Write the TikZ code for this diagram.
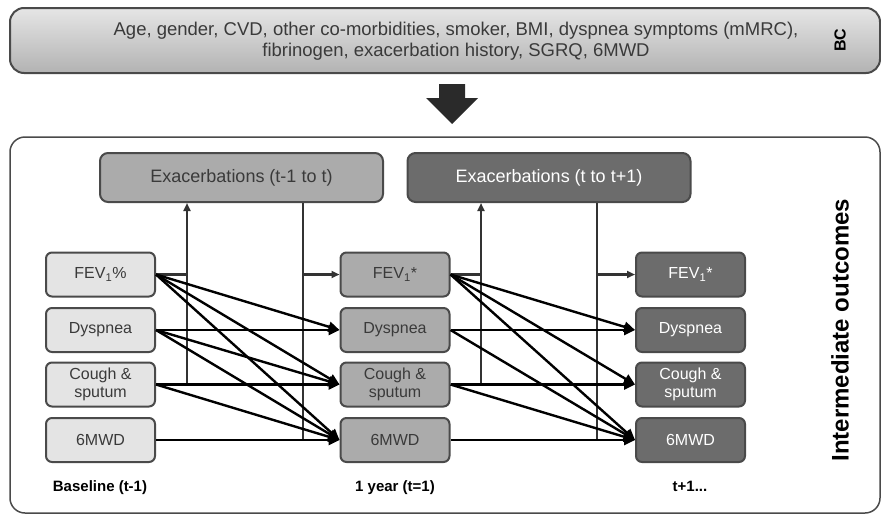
\documentclass[tikz,border=0pt]{standalone}
\usepackage{fontspec}
\setmainfont{Liberation Sans}
\usetikzlibrary{arrows.meta}
\definecolor{edge}{HTML}{4A4A4A}
\definecolor{lightbox}{HTML}{E4E4E4}
\definecolor{midbox}{HTML}{ABABAB}
\definecolor{darkbox}{HTML}{6C6C6C}
\definecolor{txt}{HTML}{3A3A3A}
\definecolor{linkcol}{HTML}{333333}
\definecolor{bigarrow}{HTML}{2A2A2A}
\begin{document}
\begin{tikzpicture}[x=1pt,y=-1pt,
 smallbox/.style={draw=edge, line width=2pt, rounded corners=6pt, minimum width=109pt, minimum height=44pt, font=\fontsize{16}{18}\selectfont, align=center, inner sep=0pt, text=txt},
 lt/.style={smallbox, fill=lightbox},
 md/.style={smallbox, fill=midbox},
 dk/.style={smallbox, fill=darkbox, text=white},
 exbox/.style={draw=edge, line width=2pt, rounded corners=8pt, minimum width=283pt, minimum height=49pt, font=\fontsize{18}{20}\selectfont, inner sep=0pt},
 flow/.style={line width=2.4pt, black, -{Triangle[length=11pt,width=10pt]}},
 link/.style={draw=linkcol, line width=2.2pt},
 linkarrow/.style={link, -{Triangle[length=8pt,width=7pt]}},
 steplabel/.style={font=\bfseries\fontsize{15}{17}\selectfont, text=black, anchor=base},
 sidelabel/.style={rotate=90, font=\bfseries, text=black}
]
\useasboundingbox (0,0) rectangle (881,517);

% top box
\node[draw=edge, line width=2pt, rounded corners=14pt, top color=white!90!black, bottom color=white!70!black,
      minimum width=870pt, minimum height=65pt, inner sep=0pt] (bcbox) at (445,40.5) {};
\node[font=\fontsize{18.5}{21}\selectfont, text=txt, align=center] (bctext) at (456,41)
  {Age, gender, CVD, other co-morbidities, smoker, BMI, dyspnea symptoms (mMRC),\\fibrinogen, exacerbation history, SGRQ, 6MWD};
\node[sidelabel, font=\bfseries\fontsize{16}{18}\selectfont] (bc) at (840,40) {BC};

% big arrow
\fill[bigarrow] (439,84) -- (465,84) -- (465,98) -- (478,98) -- (452,124) -- (426,98) -- (439,98) -- cycle;

% bottom frame
\draw[edge, line width=1.5pt, rounded corners=15pt] (10,137) rectangle (880,513);
\node[sidelabel, font=\bfseries\fontsize{24}{26}\selectfont] (io) at (840,330) {Intermediate outcomes};

% exacerbation boxes
\node[exbox, fill=midbox, text=txt] (e1) at (241.5,177.5) {Exacerbations (t-1 to t)};
\node[exbox, fill=darkbox, text=white] (e2) at (549,177.5) {Exacerbations (t to t+1)};

% column boxes
\node[lt] (f1) at (100.5,274.5) {FEV\textsubscript{1}\%};
\node[lt] (y1) at (100.5,330) {Dyspnea};
\node[lt] (c1) at (100.5,384.5) {Cough \&\\sputum};
\node[lt] (m1) at (100.5,440) {6MWD};

\node[md] (f2) at (395,274.5) {FEV\textsubscript{1}*};
\node[md] (y2) at (395,330) {Dyspnea};
\node[md] (c2) at (395,384.5) {Cough \&\\sputum};
\node[md] (m2) at (395,440) {6MWD};

\node[dk] (f3) at (690.5,274.5) {FEV\textsubscript{1}*};
\node[dk] (y3) at (690.5,330) {Dyspnea};
\node[dk] (c3) at (690.5,384.5) {Cough \&\\sputum};
\node[dk] (m3) at (690.5,440) {6MWD};

% time labels
\node[steplabel] (t0) at (100,491) {Baseline (t-1)};
\node[steplabel] (t1) at (395,491) {1 year (t=1)};
\node[steplabel] (t2) at (690,491) {t+1...};

% exacerbation links, first period
\coordinate (u1) at (187,384.5);
\coordinate (d1) at (303,440);
\draw[link] (f1.east) -- (f1.east -| u1);
\draw[linkarrow] (u1) -- (u1 |- e1.south);
\draw[link] (d1 |- e1.south) -- (d1);
\draw[linkarrow] (d1 |- f2.west) -- (f2.west);

% exacerbation links, second period
\coordinate (u2) at (481,384.5);
\coordinate (d2) at (597,440);
\draw[link] (f2.east) -- (f2.east -| u2);
\draw[linkarrow] (u2) -- (u2 |- e2.south);
\draw[link] (d2 |- e2.south) -- (d2);
\draw[linkarrow] (d2 |- f3.west) -- (f3.west);

% flows, first period
\draw[flow] (f1.east) -- (y2.west);
\draw[flow] (f1.east) -- (c2.west);
\draw[flow] (f1.east) -- (m2.west);
\draw[flow] (y1.east) -- (y2.west);
\draw[flow] (y1.east) -- (c2.west);
\draw[flow] (y1.east) -- (m2.west);
\draw[flow] (c1.east) -- (c2.west);
\draw[flow] (c1.east) -- (m2.west);
\draw[flow] (m1.east) -- (m2.west);

% flows, second period
\draw[flow] (f2.east) -- (y3.west);
\draw[flow] (f2.east) -- (c3.west);
\draw[flow] (f2.east) -- (m3.west);
\draw[flow] (y2.east) -- (y3.west);
\draw[flow] (y2.east) -- (m3.west);
\draw[flow] (c2.east) -- (c3.west);
\draw[flow] (c2.east) -- (m3.west);
\draw[flow] (m2.east) -- (m3.west);
\end{tikzpicture}
\end{document}
